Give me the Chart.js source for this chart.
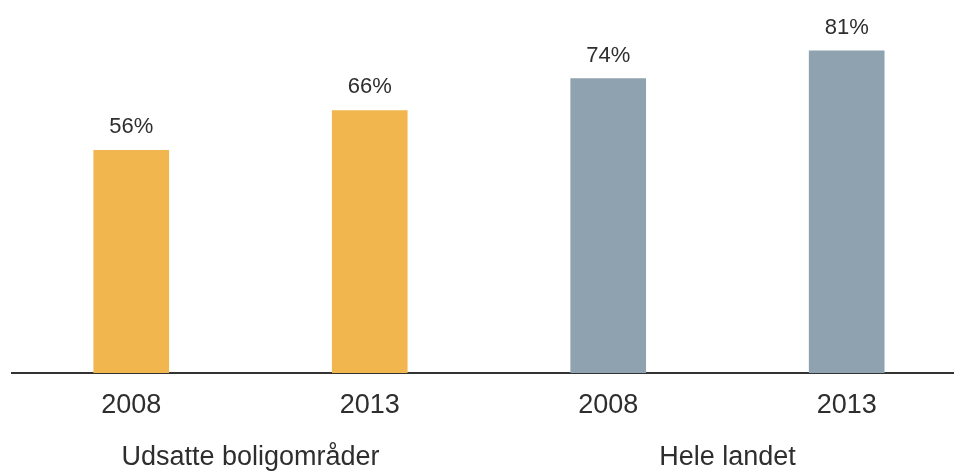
<!DOCTYPE html>
<html>
<head>
<meta charset="utf-8">
<script src="https://cdn.jsdelivr.net/npm/chart.js@4"></script>
<style>
  html, body { margin: 0; padding: 0; background: #fff; }
  #wrap { width: 954px; height: 472px; position: relative; }
</style>
</head>
<body>
<div id="wrap"><canvas id="chart"></canvas></div>
<script>
// data
const positions = [0, 1, 2, 3];
const years = ['2008', '2013', '2008', '2013'];
const values = [56, 66, 74, 81];
const groups = ['Udsatte boligområder', 'Hele landet'];
const groupSpan = [[0, 1], [2, 3]];
const barColors = ['#F2B64E', '#F2B64E', '#8EA3AF', '#8EA3AF'];

const FONT = "'Liberation Sans', Arial, sans-serif";
const TEXT = '#2e2e2e';

// labels above the bars + years + group names under the axis
const labelsPlugin = {
  id: 'labels',
  afterDatasetsDraw(chart) {
    const ctx = chart.ctx;
    const meta = chart.getDatasetMeta(0);
    const xs = chart.scales.x;
    const bottom = chart.chartArea.bottom;
    ctx.save();
    ctx.fillStyle = TEXT;
    ctx.textAlign = 'center';

    ctx.font = '22px ' + FONT;
    ctx.textBaseline = 'alphabetic';
    meta.data.forEach((bar, i) => {
      ctx.fillText(values[i] + '%', bar.x, bar.y - 17);
    });

    ctx.font = '27px ' + FONT;
    ctx.textBaseline = 'middle';
    positions.forEach((p, i) => {
      ctx.fillText(years[i], xs.getPixelForValue(p), bottom + 33);
    });

    groups.forEach((g, i) => {
      const mid = (groupSpan[i][0] + groupSpan[i][1]) / 2;
      ctx.fillText(g, xs.getPixelForValue(mid), bottom + 85);
    });
    ctx.restore();
  }
};

new Chart(document.getElementById('chart'), {
  type: 'bar',
  data: {
    datasets: [{
      data: positions.map((p, i) => ({ x: p, y: values[i] })),
      backgroundColor: barColors,
      barThickness: 75,
      borderWidth: 0
    }]
  },
  options: {
    responsive: true,
    maintainAspectRatio: false,
    animation: false,
    layout: { padding: { top: 15, bottom: 91, left: 12, right: 0 } },
    plugins: { legend: { display: false }, tooltip: { enabled: false } },
    scales: {
      x: {
        type: 'linear',
        offset: false,
        min: -0.5,
        max: 3.45,
        grid: { display: false, offset: false },
        ticks: { display: false },
        border: { display: true, color: '#333', width: 2 }
      },
      y: {
        display: false,
        min: 0,
        max: 90
      }
    }
  },
  plugins: [labelsPlugin]
});
</script>
</body>
</html>
